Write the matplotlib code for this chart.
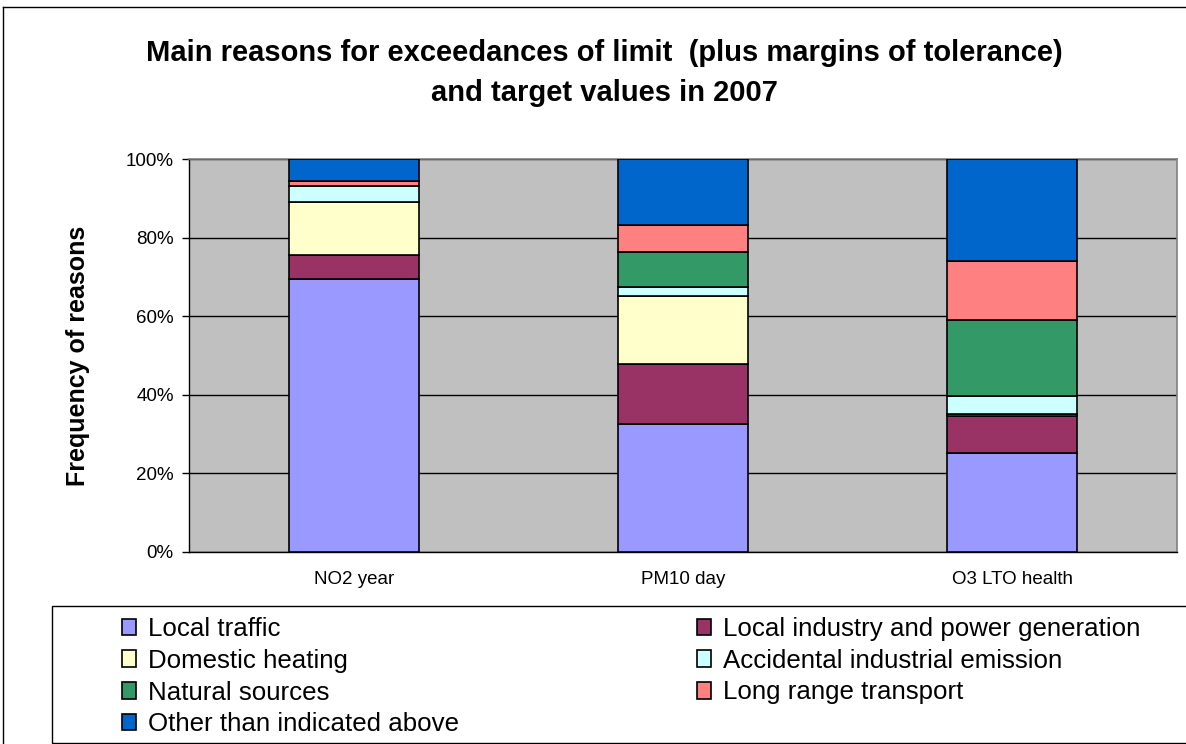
import matplotlib.pyplot as plt
import matplotlib.patches as mpatches
from matplotlib.lines import Line2D
import numpy as np

plt.rcParams['font.family'] = ['Liberation Sans', 'DejaVu Sans']

# data (share of reasons, %)
categories = ["NO2 year", "PM10 day", "O3 LTO health"]
reasons = ["Local traffic", "Local industry and power generation", "Domestic heating",
           "Accidental industrial emission", "Natural sources", "Long range transport",
           "Other than indicated above"]
local_traffic = [69.5, 32.5, 25.3]
local_industry = [6.1, 15.4, 9.3]
domestic_heating = [13.5, 17.2, 0.5]
accidental = [4.1, 2.3, 4.7]
natural = [0.0, 9.0, 19.3]
long_range = [1.2, 6.7, 15.0]
other = [5.6, 16.9, 25.9]

series = [local_traffic, local_industry, domestic_heating, accidental,
          natural, long_range, other]
colors = ["#9999FF", "#993366", "#FFFFCC", "#CCFFFF", "#339966", "#FF8080", "#0066CC"]

fig = plt.figure(figsize=(11.86, 7.44), dpi=100)
ax = fig.add_axes([189 / 1186, 1 - 552 / 744, 988 / 1186, 393 / 744])
ax.set_facecolor("#C0C0C0")

x = np.arange(len(categories))
bottom = np.zeros(len(categories))
handles = []
for vals, col, name in zip(series, colors, reasons):
    vals = np.array(vals)
    ax.bar(x, vals, 0.395, bottom=bottom, color=col, edgecolor="black", linewidth=1.2,
           zorder=3)
    bottom += vals
    handles.append(mpatches.Patch(facecolor=col, edgecolor="black", linewidth=1.2, label=name))

ax.set_xlim(-0.5, 2.5)
ax.set_ylim(0, 100)
ax.set_yticks(np.arange(0, 101, 20))
ax.set_yticklabels([f"{v}%" for v in range(0, 101, 20)], fontsize=13.5)
ax.set_xticks(x)
ax.set_xticklabels(categories, fontsize=13.5)
ax.tick_params(axis="x", length=0, pad=14)
ax.tick_params(axis="y", direction="out", length=5, width=1, pad=6)
ax.yaxis.grid(True, color="black", linewidth=1, zorder=1)
ax.set_axisbelow(True)
for s in ["top", "right"]:
    ax.spines[s].set_color("#808080")
    ax.spines[s].set_linewidth(1.2)
ax.spines["left"].set_linewidth(1)
ax.spines["bottom"].set_linewidth(1)

ax.set_ylabel("Frequency of reasons", fontsize=18, fontweight="bold", labelpad=26)

fig.text(0.51, 1 - 53 / 744, "Main reasons for exceedances of limit  (plus margins of tolerance)",
         ha="center", va="center", fontsize=21, fontweight="bold")
fig.text(0.51, 1 - 93 / 744, "and target values in 2007",
         ha="center", va="center", fontsize=21, fontweight="bold")

# outer chart border (left and top)
fig.add_artist(Line2D([3 / 1186, 3 / 1186], [0, 1 - 7 / 744], color="black", linewidth=1))
fig.add_artist(Line2D([3 / 1186, 1], [1 - 7 / 744, 1 - 7 / 744], color="black", linewidth=1))

# legend box
fig.add_artist(mpatches.Rectangle((52 / 1186, 1 / 744), 1.1, (744 - 607) / 744,
                                  transform=fig.transFigure, facecolor="white",
                                  edgecolor="black", linewidth=1))
order = [0, 2, 4, 6, 1, 3, 5]
fig.legend([handles[i] for i in order], [reasons[i] for i in order],
           loc="upper left", bbox_to_anchor=(122 / 1186, 1 - 617 / 744), ncol=2,
           frameon=False, fontsize=18.6, handlelength=0.56, handleheight=0.6,
           handletextpad=0.45, columnspacing=9.2, labelspacing=0.3,
           borderaxespad=0, borderpad=0)

fig.savefig("out.png", dpi=100)
